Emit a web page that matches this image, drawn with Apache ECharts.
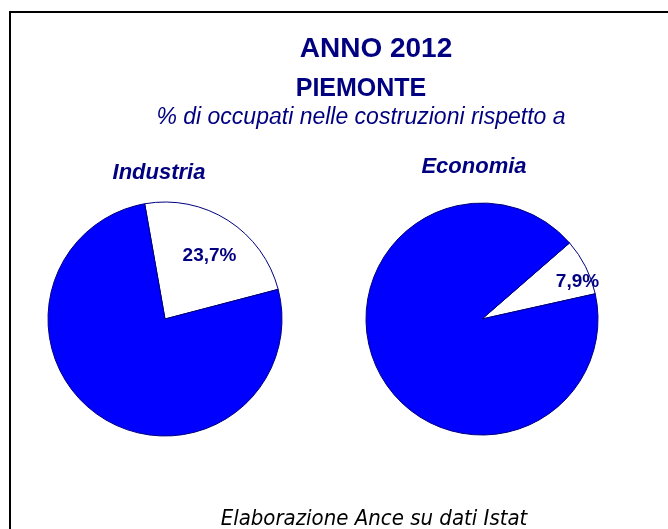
<!DOCTYPE html>
<html>
<head>
<meta charset="utf-8">
<script src="https://cdn.jsdelivr.net/npm/echarts@6/dist/echarts.min.js"></script>
<style>
  html, body { margin: 0; padding: 0; background: #ffffff; }
  #chart { width: 668px; height: 529px; }
</style>
</head>
<body>
<div id="chart"></div>
<script>
// Share of construction workers in Piedmont, 2012
const sliceNames = ['Costruzioni', 'Altri settori'];
const industriaValues = [23.7, 76.3];
const economiaValues = [7.9, 92.1];
const pieTitles = ['Industria', 'Economia'];
const headerLines = ['ANNO 2012', 'PIEMONTE', '% di occupati nelle costruzioni rispetto a'];
const footerText = 'Elaborazione Ance su dati Istat';

const NAVY = '#000080';
const BLUE = '#0000ff';

function toData(values) {
  return values.map((v, i) => ({
    name: sliceNames[i],
    value: v,
    itemStyle: { color: i === 0 ? '#ffffff' : BLUE }
  }));
}

function formatPct(v) {
  return v.toFixed(1).replace('.', ',') + '%';
}

// Solid pie with the navy outline
function mainPie(values, center, radius, startAngle) {
  return {
    type: 'pie',
    center: center,
    radius: [0, radius],
    startAngle: startAngle,
    clockwise: true,
    silent: true,
    animation: false,
    label: { show: false },
    labelLine: { show: false },
    itemStyle: { borderColor: NAVY, borderWidth: 1 },
    data: toData(values)
  };
}

// Transparent ring on top of each pie that only carries the value label
function labelRing(values, center, inner, outer, startAngle, drop) {
  return {
    type: 'pie',
    center: center,
    radius: [inner, outer],
    startAngle: startAngle,
    clockwise: true,
    silent: true,
    animation: false,
    z: 5,
    itemStyle: { color: 'rgba(0,0,0,0)', borderWidth: 0 },
    labelLine: { show: false },
    labelLayout: () => ({ dy: drop }),
    label: {
      show: true,
      position: 'inside',
      color: NAVY,
      fontFamily: '"Liberation Sans", Arial, sans-serif',
      fontWeight: 'bold',
      fontSize: 19,
      formatter: p => (p.dataIndex === 0 ? formatPct(p.value) : '')
    },
    data: values.map((v, i) => ({ name: sliceNames[i], value: v }))
  };
}

const SANS = '"Liberation Sans", Arial, sans-serif';

const chart = echarts.init(document.getElementById('chart'), null, { renderer: 'canvas' });
chart.setOption({
  backgroundColor: '#ffffff',
  animation: false,
  title: [
    {
      text: headerLines[0], left: 376, top: 35, textAlign: 'center', padding: 0,
      textStyle: { fontFamily: SANS, fontSize: 28, fontWeight: 'bold', color: NAVY }
    },
    {
      text: headerLines[1], left: 361, top: 77, textAlign: 'center', padding: 0,
      textStyle: { fontFamily: SANS, fontSize: 25, fontWeight: 'bold', color: NAVY }
    },
    {
      text: headerLines[2], left: 361, top: 106, textAlign: 'center', padding: 0,
      textStyle: { fontFamily: SANS, fontSize: 23, fontStyle: 'italic', fontWeight: 'normal', color: NAVY }
    },
    {
      text: pieTitles[0], left: 159, top: 162, textAlign: 'center', padding: 0,
      textStyle: { fontFamily: SANS, fontSize: 22, fontStyle: 'italic', fontWeight: 'bold', color: NAVY }
    },
    {
      text: pieTitles[1], left: 474, top: 156, textAlign: 'center', padding: 0,
      textStyle: { fontFamily: SANS, fontSize: 22, fontStyle: 'italic', fontWeight: 'bold', color: NAVY }
    },
    {
      text: footerText, left: 374, top: 508, textAlign: 'center', padding: 0,
      textStyle: { fontFamily: '"DejaVu Sans Condensed", "DejaVu Sans", sans-serif', fontSize: 22, fontStyle: 'italic', fontWeight: 'normal', color: '#000000' }
    }
  ],
  graphic: [
    {
      type: 'rect',
      silent: true,
      shape: { x: 10, y: 12, width: 700, height: 600 },
      style: { fill: 'none', stroke: '#000000', lineWidth: 2 }
    }
  ],
  series: [
    mainPie(industriaValues, [165, 319], 117, 100),
    labelRing(industriaValues, [165, 319], 42, 117, 100, 6),
    mainPie(economiaValues, [482, 319], 116, 41),
    labelRing(economiaValues, [482, 319], 92, 116, 41, 11)
  ]
});
</script>
</body>
</html>
